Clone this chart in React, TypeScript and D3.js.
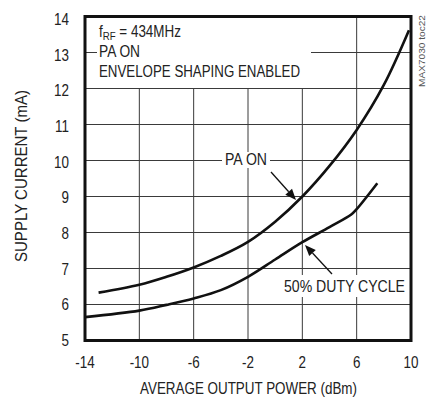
import React from "react";
import * as d3 from "d3";

const xTicks = [-14, -10, -6, -2, 2, 6, 10];
const yTicks = [5, 6, 7, 8, 9, 10, 11, 12, 13, 14];

const paOnPower = [-13, -10, -8, -6, -4, -2, 0, 2, 4, 6, 8, 9.85];
const paOnCurrent = [6.33, 6.55, 6.77, 7.03, 7.35, 7.74, 8.3, 9.0, 9.85, 10.85, 12.1, 13.62];

const dutyPower = [-14, -10, -8, -6, -4, -2, 0, 2, 4, 5.6, 6, 7.52];
const dutyCurrent = [5.65, 5.83, 5.99, 6.17, 6.4, 6.77, 7.25, 7.73, 8.15, 8.5, 8.65, 9.37];

const W = 430;
const H = 403;
const L = 85;
const R = 411;
const T = 16.5;
const B = 340.5;

const FONT = "'Liberation Sans', Arial, sans-serif";
const FS = 16;
const SX = 0.84;
const TXT = "#222";

function NText(props: { x: number; y: number; anchor?: string; children: React.ReactNode }) {
  return (
    <text
      transform={`translate(${props.x},${props.y}) scale(${SX},1)`}
      fontSize={FS}
      textAnchor={props.anchor ?? "start"}
      fill={TXT}
    >
      {props.children}
    </text>
  );
}

function LText(props: { x: number; y: number; len: number; anchor?: string; children: React.ReactNode }) {
  return (
    <text
      x={props.x}
      y={props.y}
      fontSize={FS}
      textAnchor={props.anchor ?? "start"}
      fill={TXT}
      textLength={props.len}
      lengthAdjust="spacingAndGlyphs"
    >
      {props.children}
    </text>
  );
}

export default function App() {
  const x = d3.scaleLinear().domain([-14, 10]).range([L, R]);
  const y = d3.scaleLinear().domain([5, 14]).range([B, T]);
  const yLab = d3.scaleLinear().domain([5, 14]).range([340, 19]);

  const line = d3
    .line<[number, number]>()
    .x((d) => x(d[0]))
    .y((d) => y(d[1]))
    .curve(d3.curveCatmullRom.alpha(0.5));

  const paOn: [number, number][] = paOnPower.map((p, i) => [p, paOnCurrent[i]]);
  const duty: [number, number][] = dutyPower.map((p, i) => [p, dutyCurrent[i]]);

  const gridColor = "#3a3a3a";

  const arrow = (x1: number, y1: number, x2: number, y2: number) => {
    const ang = Math.atan2(y2 - y1, x2 - x1);
    const len = 11;
    const w = 4.5;
    const bx = x2 - len * Math.cos(ang);
    const by = y2 - len * Math.sin(ang);
    const px = -Math.sin(ang) * w;
    const py = Math.cos(ang) * w;
    return (
      <g>
        <line x1={x1} y1={y1} x2={bx} y2={by} stroke="#111" strokeWidth={1.3} />
        <polygon
          points={`${x2},${y2} ${bx + px},${by + py} ${bx - px},${by - py}`}
          fill="#111"
        />
      </g>
    );
  };

  return (
    <svg
      width={W}
      height={H}
      style={{ position: "absolute", left: 0, top: 0, background: "#fff" }}
      fontFamily={FONT}
    >
      <rect x={0} y={0} width={W} height={H} fill="#fff" />
      {/* grid */}
      {xTicks.slice(1, -1).map((t) => (
        <line key={"vx" + t} x1={x(t)} x2={x(t)} y1={T} y2={B} stroke={gridColor} strokeWidth={1} />
      ))}
      {yTicks.slice(1, -1).map((t) => (
        <line key={"hy" + t} x1={L} x2={R} y1={y(t)} y2={y(t)} stroke={gridColor} strokeWidth={1} />
      ))}
      {/* white masks for annotation text */}
      <rect x={97} y={T + 1} width={214} height={y(12) - T - 1.5} fill="#fff" />
      <rect x={222} y={152} width={48} height={16} fill="#fff" />
      <rect x={280} y={275} width={128} height={22} fill="#fff" />

      {/* curves */}
      <path d={line(paOn) ?? ""} fill="none" stroke="#111" strokeWidth={2.6} />
      <path d={line(duty) ?? ""} fill="none" stroke="#111" strokeWidth={2.6} />

      {/* frame */}
      <rect x={L} y={T} width={R - L} height={B - T} fill="none" stroke="#111" strokeWidth={3} />

      {/* annotations */}
      <NText x={99} y={36.5}>
        f<tspan fontSize={11.5} dy={3}>RF</tspan>
        <tspan dy={-3}> = 434MHz</tspan>
      </NText>
      <LText x={99} y={56.5} len={41}>PA ON</LText>
      <LText x={99} y={76.7} len={201}>ENVELOPE SHAPING ENABLED</LText>

      <LText x={225} y={165} len={42}>PA ON</LText>
      {arrow(271, 172, 296, 200)}

      <LText x={284} y={291.5} len={121}>50% DUTY CYCLE</LText>
      {arrow(332, 274, 305, 245)}

      {/* tick labels */}
      {yTicks.map((t) => (
        <NText key={"yl" + t} x={69} y={yLab(t) + 6} anchor="end">
          {t}
        </NText>
      ))}
      {xTicks.map((t) => (
        <NText key={"xl" + t} x={x(t)} y={368} anchor="middle">
          {t < 0 ? "-" + Math.abs(t) : String(t)}
        </NText>
      ))}

      <LText x={140} y={394} len={217}>AVERAGE OUTPUT POWER (dBm)</LText>
      <g transform="translate(26.5, 262) rotate(-90)">
        <LText x={0} y={0} len={172}>SUPPLY CURRENT (mA)</LText>
      </g>

      <g transform="translate(425, 87) rotate(-90)">
        <text
          x={0}
          y={0}
          fontSize={9.5}
          fill="#555"
          textLength={72}
          lengthAdjust="spacingAndGlyphs"
        >
          MAX7030 toc22
        </text>
      </g>
    </svg>
  );
}
